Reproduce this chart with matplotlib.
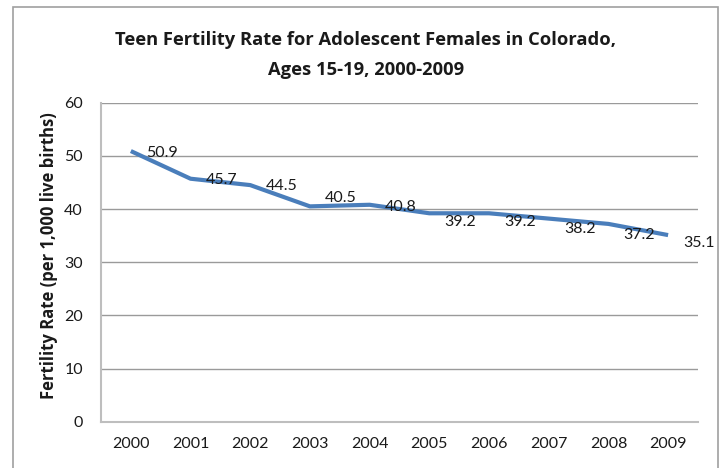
import matplotlib.pyplot as plt
from matplotlib.patches import Rectangle

# teen fertility rate, Colorado, ages 15-19
years = ['2000', '2001', '2002', '2003', '2004', '2005', '2006', '2007', '2008', '2009']
rates = [50.9, 45.7, 44.5, 40.5, 40.8, 39.2, 39.2, 38.2, 37.2, 35.1]
yticks = [0, 10, 20, 30, 40, 50, 60]

# label offsets (points) as placed in the original
lab_dy = [-1.5, -1, -1, 6, -1.5, -6, -6, -7.5, -8, -6]

plt.rcParams['font.family'] = ['Lato', 'DejaVu Sans']
bold_font = ['Open Sans', 'DejaVu Sans']

fig = plt.figure(figsize=(7.24, 4.68), dpi=100)
ax = fig.add_axes([0.1395, 0.0989, 0.8245, 0.6817])

x = list(range(len(years)))
ax.plot(x, rates, color='#4A7EBB', lw=3, solid_capstyle='butt', solid_joinstyle='round', zorder=3)

for xi, v, dy in zip(x, rates, lab_dy):
    ax.annotate(f'{v:.1f}', (xi, v), xytext=(11, dy), textcoords='offset points',
                ha='left', va='center', fontsize=11.5, color='#1a1a1a')

ax.set_xlim(-0.5, len(years) - 0.5)
ax.set_ylim(0, 60)
ax.set_xticks(x)
ax.set_xticklabels(years)
ax.set_yticks(yticks)
ax.tick_params(axis='both', length=0, labelsize=11.5, colors='#1a1a1a')
ax.tick_params(axis='y', pad=13)
ax.tick_params(axis='x', pad=11)

ax.grid(axis='y', color='#9A9A9A', lw=1)
ax.set_axisbelow(True)
for s in ['top', 'right']:
    ax.spines[s].set_visible(False)
for s in ['left', 'bottom']:
    ax.spines[s].set_color('#BEBEBE')
    ax.spines[s].set_linewidth(1.5)

fig.text(0.5055, 0.9145, 'Teen Fertility Rate for Adolescent Females in Colorado,',
         ha='center', va='center', fontsize=13.2, fontweight='bold', color='#1a1a1a',
         family=bold_font)
fig.text(0.5055, 0.850, 'Ages 15-19, 2000-2009',
         ha='center', va='center', fontsize=13.2, fontweight='bold', color='#1a1a1a',
         family=bold_font)
fig.text(0.067, 0.453, 'Fertility Rate (per 1,000 live births)', rotation=90,
         ha='center', va='center', fontsize=12, fontweight='bold', color='#1a1a1a',
         family=bold_font)

# chart border
fig.patches.append(Rectangle((13 / 724, -0.02), 705 / 724, 1.02 - 7 / 468,
                             transform=fig.transFigure, fill=False,
                             edgecolor='#A0A0A0', lw=1.2))

fig.savefig('out.png', dpi=100)
